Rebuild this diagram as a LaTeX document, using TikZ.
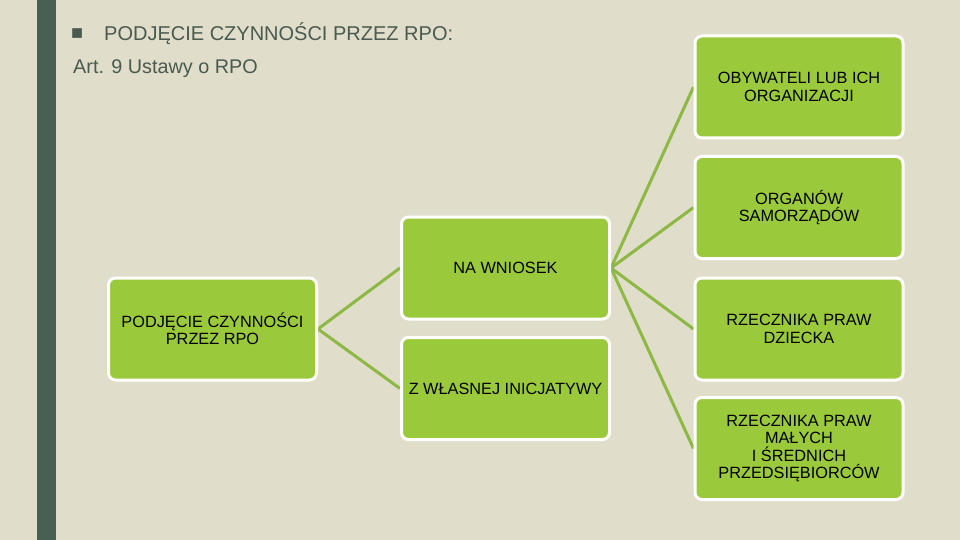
\documentclass[tikz,border=0pt]{standalone}
\usepackage{fontspec}
\setmainfont{Liberation Sans}
\usetikzlibrary{backgrounds}
\definecolor{bg}{HTML}{E0DDCB}
\definecolor{bar}{HTML}{476052}
\definecolor{boxg}{HTML}{9ACA3C}
\definecolor{lineg}{HTML}{8DB843}
\definecolor{titlec}{HTML}{4A5A4E}
\begin{document}
\begin{tikzpicture}[x=1pt,y=-1pt,
  gbox/.style={draw=white,line width=3pt,fill=boxg,rounded corners=7pt,
    minimum width=208pt,minimum height=102pt,align=center,
    font=\fontsize{16.3}{17.5}\selectfont,text=black,inner sep=2pt},
  conn/.style={draw=lineg,line width=3pt}]
\useasboundingbox (0,0) rectangle (960,540);
\node[anchor=west,text=titlec,font=\fontsize{20}{22}\selectfont,inner sep=0] (bul) at (71,34) {■};
\node[anchor=west,text=titlec,font=\fontsize{20}{23}\selectfont,inner sep=0] (title) at (104,34) {PODJĘCIE CZYNNOŚCI PRZEZ RPO:};
\node[anchor=west,text=titlec,font=\fontsize{19.8}{23}\selectfont,inner sep=0] (art) at (73,69) {Art. 9 Ustawy o RPO};

\node[gbox] (root) at (212.5,329) {PODJĘCIE CZYNNOŚCI\\PRZEZ RPO};
\node[gbox] (wn) at (505.5,268) {NA WNIOSEK};
\node[gbox] (wl) at (505.5,388.5) {Z WŁASNEJ INICJATYWY};
\node[gbox] (ob) at (799,87) {OBYWATELI LUB ICH\\ORGANIZACJI};
\node[gbox] (or) at (799,207.5) {ORGANÓW\\SAMORZĄDÓW};
\node[gbox] (rd) at (799,329) {RZECZNIKA PRAW\\DZIECKA};
\node[gbox] (rm) at (799,448.5) {RZECZNIKA PRAW\\MAŁYCH\\I ŚREDNICH\\PRZEDSIĘBIORCÓW};

\begin{scope}[on background layer]
\fill[bg] (0,0) rectangle (960,540);
\fill[bar] (37,0) rectangle (56,540);
\draw[conn] (root.east) -- (wn.west);
\draw[conn] (root.east) -- (wl.west);
\draw[conn] (wn.east) -- (ob.west);
\draw[conn] (wn.east) -- (or.west);
\draw[conn] (wn.east) -- (rd.west);
\draw[conn] (wn.east) -- (rm.west);
\end{scope}
\end{tikzpicture}
\end{document}
